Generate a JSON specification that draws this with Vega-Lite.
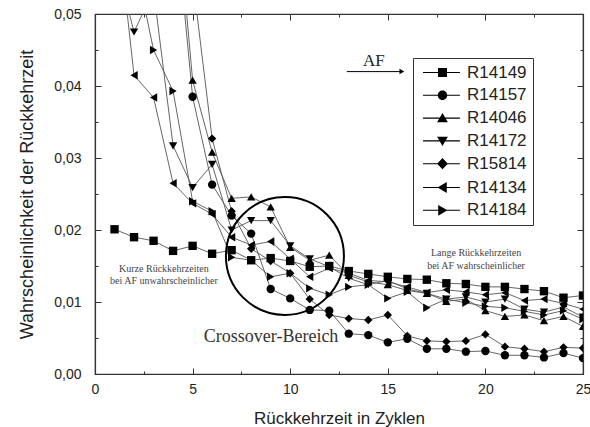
{
  "$schema": "https://vega.github.io/schema/vega-lite/v6.json",
  "width": 488,
  "height": 360,
  "autosize": {"type": "none"},
  "padding": {"left": 95, "top": 14, "right": 7, "bottom": 53},
  "background": "white",
  "config": {"view": {"stroke": "#333", "strokeWidth": 1.2}, "font": "Liberation Sans"},
  "datasets": {
    "d": [
      {"s":"R14149","x":1,"v":0.0201},{"s":"R14149","x":2,"v":0.0190},{"s":"R14149","x":3,"v":0.0185},{"s":"R14149","x":4,"v":0.0171},{"s":"R14149","x":5,"v":0.0178},{"s":"R14149","x":6,"v":0.0167},{"s":"R14149","x":7,"v":0.0172},{"s":"R14149","x":8,"v":0.0158},{"s":"R14149","x":9,"v":0.0161},{"s":"R14149","x":10,"v":0.0157},{"s":"R14149","x":11,"v":0.0149},{"s":"R14149","x":12,"v":0.0150},{"s":"R14149","x":13,"v":0.0143},{"s":"R14149","x":14,"v":0.0139},{"s":"R14149","x":15,"v":0.0135},{"s":"R14149","x":16,"v":0.0132},{"s":"R14149","x":17,"v":0.0131},{"s":"R14149","x":18,"v":0.0126},{"s":"R14149","x":19,"v":0.0125},{"s":"R14149","x":20,"v":0.0121},{"s":"R14149","x":21,"v":0.0121},{"s":"R14149","x":22,"v":0.0118},{"s":"R14149","x":23,"v":0.0115},{"s":"R14149","x":24,"v":0.0106},{"s":"R14149","x":25,"v":0.0109},
      {"s":"R14157","x":1,"v":0.125},{"s":"R14157","x":2,"v":0.105},{"s":"R14157","x":3,"v":0.085},{"s":"R14157","x":4,"v":0.067},{"s":"R14157","x":5,"v":0.0385},{"s":"R14157","x":6,"v":0.0263},{"s":"R14157","x":7,"v":0.0220},{"s":"R14157","x":8,"v":0.0195},{"s":"R14157","x":9,"v":0.0118},{"s":"R14157","x":10,"v":0.0105},{"s":"R14157","x":11,"v":0.0089},{"s":"R14157","x":12,"v":0.0088},{"s":"R14157","x":13,"v":0.0056},{"s":"R14157","x":14,"v":0.0054},{"s":"R14157","x":15,"v":0.0044},{"s":"R14157","x":16,"v":0.0049},{"s":"R14157","x":17,"v":0.0035},{"s":"R14157","x":18,"v":0.0035},{"s":"R14157","x":19,"v":0.0031},{"s":"R14157","x":20,"v":0.0032},{"s":"R14157","x":21,"v":0.0026},{"s":"R14157","x":22,"v":0.0026},{"s":"R14157","x":23,"v":0.0023},{"s":"R14157","x":24,"v":0.0029},{"s":"R14157","x":25,"v":0.0022},
      {"s":"R14046","x":1,"v":0.13},{"s":"R14046","x":2,"v":0.11},{"s":"R14046","x":3,"v":0.09},{"s":"R14046","x":4,"v":0.071},{"s":"R14046","x":5,"v":0.0408},{"s":"R14046","x":6,"v":0.0308},{"s":"R14046","x":7,"v":0.0244},{"s":"R14046","x":8,"v":0.0246},{"s":"R14046","x":9,"v":0.0232},{"s":"R14046","x":10,"v":0.0176},{"s":"R14046","x":11,"v":0.0158},{"s":"R14046","x":12,"v":0.0165},{"s":"R14046","x":13,"v":0.0137},{"s":"R14046","x":14,"v":0.0128},{"s":"R14046","x":15,"v":0.0124},{"s":"R14046","x":16,"v":0.0116},{"s":"R14046","x":17,"v":0.0112},{"s":"R14046","x":18,"v":0.0101},{"s":"R14046","x":19,"v":0.0104},{"s":"R14046","x":20,"v":0.0088},{"s":"R14046","x":21,"v":0.0080},{"s":"R14046","x":22,"v":0.0082},{"s":"R14046","x":23,"v":0.0074},{"s":"R14046","x":24,"v":0.0080},{"s":"R14046","x":25,"v":0.0066},
      {"s":"R14172","x":1,"v":0.058},{"s":"R14172","x":2,"v":0.0475},{"s":"R14172","x":3,"v":0.0533},{"s":"R14172","x":4,"v":0.0317},{"s":"R14172","x":5,"v":0.0259},{"s":"R14172","x":6,"v":0.0291},{"s":"R14172","x":7,"v":0.0200},{"s":"R14172","x":8,"v":0.0213},{"s":"R14172","x":9,"v":0.0213},{"s":"R14172","x":10,"v":0.0178},{"s":"R14172","x":11,"v":0.0160},{"s":"R14172","x":12,"v":0.0149},{"s":"R14172","x":13,"v":0.0133},{"s":"R14172","x":14,"v":0.0124},{"s":"R14172","x":15,"v":0.0130},{"s":"R14172","x":16,"v":0.0118},{"s":"R14172","x":17,"v":0.0112},{"s":"R14172","x":18,"v":0.0104},{"s":"R14172","x":19,"v":0.0107},{"s":"R14172","x":20,"v":0.0100},{"s":"R14172","x":21,"v":0.0104},{"s":"R14172","x":22,"v":0.0090},{"s":"R14172","x":23,"v":0.0086},{"s":"R14172","x":24,"v":0.0093},{"s":"R14172","x":25,"v":0.0079},
      {"s":"R15814","x":1,"v":0.12},{"s":"R15814","x":2,"v":0.10},{"s":"R15814","x":3,"v":0.085},{"s":"R15814","x":4,"v":0.075},{"s":"R15814","x":5,"v":0.055},{"s":"R15814","x":6,"v":0.0327},{"s":"R15814","x":7,"v":0.0226},{"s":"R15814","x":8,"v":0.0174},{"s":"R15814","x":9,"v":0.0157},{"s":"R15814","x":10,"v":0.0140},{"s":"R15814","x":11,"v":0.0104},{"s":"R15814","x":12,"v":0.0082},{"s":"R15814","x":13,"v":0.0077},{"s":"R15814","x":14,"v":0.0075},{"s":"R15814","x":15,"v":0.0082},{"s":"R15814","x":16,"v":0.0053},{"s":"R15814","x":17,"v":0.0046},{"s":"R15814","x":18,"v":0.0045},{"s":"R15814","x":19,"v":0.0046},{"s":"R15814","x":20,"v":0.0055},{"s":"R15814","x":21,"v":0.0038},{"s":"R15814","x":22,"v":0.0035},{"s":"R15814","x":23,"v":0.0031},{"s":"R15814","x":24,"v":0.0037},{"s":"R15814","x":25,"v":0.0036},
      {"s":"R14134","x":1,"v":0.066},{"s":"R14134","x":2,"v":0.0415},{"s":"R14134","x":3,"v":0.0384},{"s":"R14134","x":4,"v":0.0265},{"s":"R14134","x":5,"v":0.0237},{"s":"R14134","x":6,"v":0.0222},{"s":"R14134","x":7,"v":0.0190},{"s":"R14134","x":8,"v":0.0179},{"s":"R14134","x":9,"v":0.0184},{"s":"R14134","x":10,"v":0.0160},{"s":"R14134","x":11,"v":0.0135},{"s":"R14134","x":12,"v":0.0147},{"s":"R14134","x":13,"v":0.0140},{"s":"R14134","x":14,"v":0.0130},{"s":"R14134","x":15,"v":0.0128},{"s":"R14134","x":16,"v":0.0121},{"s":"R14134","x":17,"v":0.0113},{"s":"R14134","x":18,"v":0.0117},{"s":"R14134","x":19,"v":0.0114},{"s":"R14134","x":20,"v":0.0110},{"s":"R14134","x":21,"v":0.0113},{"s":"R14134","x":22,"v":0.0102},{"s":"R14134","x":23,"v":0.0104},{"s":"R14134","x":24,"v":0.0098},{"s":"R14134","x":25,"v":0.0090},
      {"s":"R14184","x":1,"v":0.09},{"s":"R14184","x":2,"v":0.058},{"s":"R14184","x":3,"v":0.045},{"s":"R14184","x":4,"v":0.0393},{"s":"R14184","x":5,"v":0.0240},{"s":"R14184","x":6,"v":0.0226},{"s":"R14184","x":7,"v":0.0162},{"s":"R14184","x":8,"v":0.0158},{"s":"R14184","x":9,"v":0.0135},{"s":"R14184","x":10,"v":0.0140},{"s":"R14184","x":11,"v":0.0119},{"s":"R14184","x":12,"v":0.0110},{"s":"R14184","x":13,"v":0.0121},{"s":"R14184","x":14,"v":0.0124},{"s":"R14184","x":15,"v":0.0105},{"s":"R14184","x":16,"v":0.0114},{"s":"R14184","x":17,"v":0.0092},{"s":"R14184","x":18,"v":0.0104},{"s":"R14184","x":19,"v":0.0099},{"s":"R14184","x":20,"v":0.0094},{"s":"R14184","x":21,"v":0.0092},{"s":"R14184","x":22,"v":0.0087},{"s":"R14184","x":23,"v":0.0082},{"s":"R14184","x":24,"v":0.0088},{"s":"R14184","x":25,"v":0.0076}
    ],
    "circ": [{"x": 9.73, "v": 0.0164}],
    "arrow": [{"x": 12.9, "x2": 15.72, "v": 0.042}],
    "notes": [
      {"k": "small", "x": 3.53, "v": 0.01458, "t": "Kurze Rückkehrzeiten"},
      {"k": "small", "x": 3.53, "v": 0.0129, "t": "bei AF unwahrscheinlicher"},
      {"k": "small", "x": 19.52, "v": 0.01685, "t": "Lange Rückkehrzeiten"},
      {"k": "small", "x": 19.52, "v": 0.0150, "t": "bei AF wahrscheinlicher"},
      {"k": "big", "x": 9.02, "v": 0.00444, "t": "Crossover-Bereich"},
      {"k": "af", "x": 14.28, "v": 0.0428, "t": "AF"}
    ]
  },
  "resolve": {"scale": {"shape": "independent"}, "axis": {"x": "independent", "y": "independent"}},
  "layer": [
    {
      "data": {"name": "d"},
      "mark": {"type": "line", "color": "#555", "strokeWidth": 0.9, "clip": true},
      "encoding": {
        "x": {"field": "x", "type": "quantitative", "scale": {"domain": [0, 25], "nice": false, "zero": false},
          "axis": {"orient": "bottom", "values": [0,2.5,5,7.5,10,12.5,15,17.5,20,22.5,25],
            "labelExpr": "datum.value % 5 == 0 ? datum.label : ''",
            "tickSize": {"condition": {"test": "datum.value % 5 == 0", "value": -6}, "value": -3},
            "tickColor": "#333", "domainColor": "#333", "domainWidth": 1.2, "grid": false,
            "labelFontSize": 14, "labelColor": "#222", "labelPadding": 14, "labelFlush": false, "labelOverlap": false,
            "title": "Rückkehrzeit in Zyklen", "titleFontSize": 17, "titleFontWeight": "normal", "titleColor": "#222",
            "titleY": 44, "titleBaseline": "middle"}},
        "y": {"field": "v", "type": "quantitative", "scale": {"domain": [0, 0.05], "nice": false, "zero": false},
          "axis": {"orient": "left", "values": [0,0.005,0.01,0.015,0.02,0.025,0.03,0.035,0.04,0.045,0.05],
            "labelExpr": "abs(datum.value*100 - round(datum.value*100)) < 0.001 ? replace(format(datum.value, '.2f'), '.', ',') : ''",
            "tickSize": {"condition": {"test": "abs(datum.value*100 - round(datum.value*100)) < 0.001", "value": -6}, "value": -3},
            "tickColor": "#333", "domainColor": "#333", "domainWidth": 1.2, "grid": false,
            "labelFontSize": 14, "labelColor": "#222", "labelPadding": 20, "labelOverlap": false, "labelFlush": false,
            "title": "Wahrscheinlichkeit der Rückkehrzeit", "titleFontSize": 18, "titleFontWeight": "normal", "titleColor": "#222",
            "titleX": -68, "titleY": 180, "titleAngle": 270, "titleAlign": "center", "titleBaseline": "middle"}},
        "detail": {"field": "s"}
      }
    },
    {
      "data": {"name": "d"},
      "mark": {"type": "point", "filled": true, "color": "black", "opacity": 1, "size": 70, "clip": true},
      "encoding": {
        "x": {"field": "x", "type": "quantitative", "scale": {"domain": [0, 25], "nice": false, "zero": false}, "axis": null},
        "y": {"field": "v", "type": "quantitative", "scale": {"domain": [0, 0.05], "nice": false, "zero": false}, "axis": null},
        "shape": {"field": "s", "type": "nominal",
          "scale": {"domain": ["R14149","R14157","R14046","R14172","R15814","R14134","R14184"],
            "range": ["square","circle","triangle-up","triangle-down","diamond","triangle-left","triangle-right"]},
          "legend": null}
      }
    },
    {
      "data": {"name": "d"},
      "transform": [{"filter": "datum.x < 0"}],
      "mark": {"type": "point", "filled": true, "color": "black"},
      "encoding": {
        "shape": {"field": "s", "type": "nominal",
          "scale": {"domain": ["R14149","R14157","R14046","R14172","R15814","R14134","R14184"],
            "range": [
              "M-1,-0.12H7.2V0.12H-1ZM2.33,-1H4.33V1H2.33Z",
              "M-1,-0.12H7.2V0.12H-1ZM4.38,0A1.05,1.05,0,1,1,2.28,0A1.05,1.05,0,1,1,4.38,0Z",
              "M-1,-0.12H7.2V0.12H-1ZM3.33,-1.15L4.53,0.9H2.13Z",
              "M-1,-0.12H7.2V0.12H-1ZM3.33,1.15L2.13,-0.9H4.53Z",
              "M-1,-0.12H7.2V0.12H-1ZM3.33,-1.25L4.53,0L3.33,1.25L2.13,0Z",
              "M-1,-0.12H7.2V0.12H-1ZM2.23,0L4.28,-1.2V1.2Z",
              "M-1,-0.12H7.2V0.12H-1ZM4.43,0L2.38,1.2V-1.2Z"
            ]},
          "legend": {"orient": "none", "legendX": 318, "legendY": 44, "title": null, "padding": 6,
            "strokeColor": "#333", "fillColor": "white", "direction": "vertical",
            "labelFont": "Liberation Sans", "labelFontSize": 17, "labelColor": "#222", "labelOffset": 31,
            "rowPadding": 4.8, "symbolSize": 81, "symbolFillColor": "black", "symbolOpacity": 1,
            "encode": {"symbols": {"update": {"fill": {"value": "black"}, "opacity": {"value": 1}}}}}}
      }
    },
    {
      "data": {"name": "circ"},
      "mark": {"type": "point", "filled": false, "stroke": "black", "strokeWidth": 2, "size": 13924, "opacity": 1},
      "encoding": {
        "x": {"field": "x", "type": "quantitative", "scale": {"domain": [0, 25], "nice": false, "zero": false},
          "axis": {"orient": "top", "values": [0,2.5,5,7.5,10,12.5,15,17.5,20,22.5,25], "labels": false, "title": null,
            "tickSize": {"condition": {"test": "datum.value % 5 == 0", "value": -6}, "value": -3},
            "tickColor": "#333", "domainColor": "#333", "domainWidth": 1.2, "grid": false}},
        "y": {"field": "v", "type": "quantitative", "scale": {"domain": [0, 0.05], "nice": false, "zero": false},
          "axis": {"orient": "right", "values": [0,0.005,0.01,0.015,0.02,0.025,0.03,0.035,0.04,0.045,0.05], "labels": false, "title": null,
            "tickSize": {"condition": {"test": "abs(datum.value*100 - round(datum.value*100)) < 0.001", "value": -6}, "value": -3},
            "tickColor": "#333", "domainColor": "#333", "domainWidth": 1.2, "grid": false}}
      }
    },
    {
      "data": {"name": "arrow"},
      "mark": {"type": "rule", "color": "black", "strokeWidth": 1},
      "encoding": {
        "x": {"field": "x", "type": "quantitative", "scale": {"domain": [0, 25], "nice": false, "zero": false}, "axis": null},
        "x2": {"field": "x2"},
        "y": {"field": "v", "type": "quantitative", "scale": {"domain": [0, 0.05], "nice": false, "zero": false}, "axis": null}
      }
    },
    {
      "data": {"name": "arrow"},
      "mark": {"type": "point", "shape": "triangle-right", "filled": true, "color": "black", "opacity": 1, "size": 30},
      "encoding": {
        "x": {"field": "x2", "type": "quantitative", "scale": {"domain": [0, 25], "nice": false, "zero": false}, "axis": null},
        "y": {"field": "v", "type": "quantitative", "scale": {"domain": [0, 0.05], "nice": false, "zero": false}, "axis": null}
      }
    },
    {
      "data": {"name": "notes"},
      "transform": [{"filter": "datum.k == 'small'"}],
      "mark": {"type": "text", "font": "Liberation Serif", "fontSize": 10, "color": "#444", "align": "center", "baseline": "middle"},
      "encoding": {
        "x": {"field": "x", "type": "quantitative", "scale": {"domain": [0, 25], "nice": false, "zero": false}, "axis": null},
        "y": {"field": "v", "type": "quantitative", "scale": {"domain": [0, 0.05], "nice": false, "zero": false}, "axis": null},
        "text": {"field": "t"}
      }
    },
    {
      "data": {"name": "notes"},
      "transform": [{"filter": "datum.k == 'big'"}],
      "mark": {"type": "text", "font": "Liberation Serif", "fontSize": 18, "color": "#333", "align": "center", "baseline": "alphabetic"},
      "encoding": {
        "x": {"field": "x", "type": "quantitative", "scale": {"domain": [0, 25], "nice": false, "zero": false}, "axis": null},
        "y": {"field": "v", "type": "quantitative", "scale": {"domain": [0, 0.05], "nice": false, "zero": false}, "axis": null},
        "text": {"field": "t"}
      }
    },
    {
      "data": {"name": "notes"},
      "transform": [{"filter": "datum.k == 'af'"}],
      "mark": {"type": "text", "font": "Liberation Serif", "fontSize": 17, "color": "#222", "align": "center", "baseline": "alphabetic"},
      "encoding": {
        "x": {"field": "x", "type": "quantitative", "scale": {"domain": [0, 25], "nice": false, "zero": false}, "axis": null},
        "y": {"field": "v", "type": "quantitative", "scale": {"domain": [0, 0.05], "nice": false, "zero": false}, "axis": null},
        "text": {"field": "t"}
      }
    }
  ]
}
